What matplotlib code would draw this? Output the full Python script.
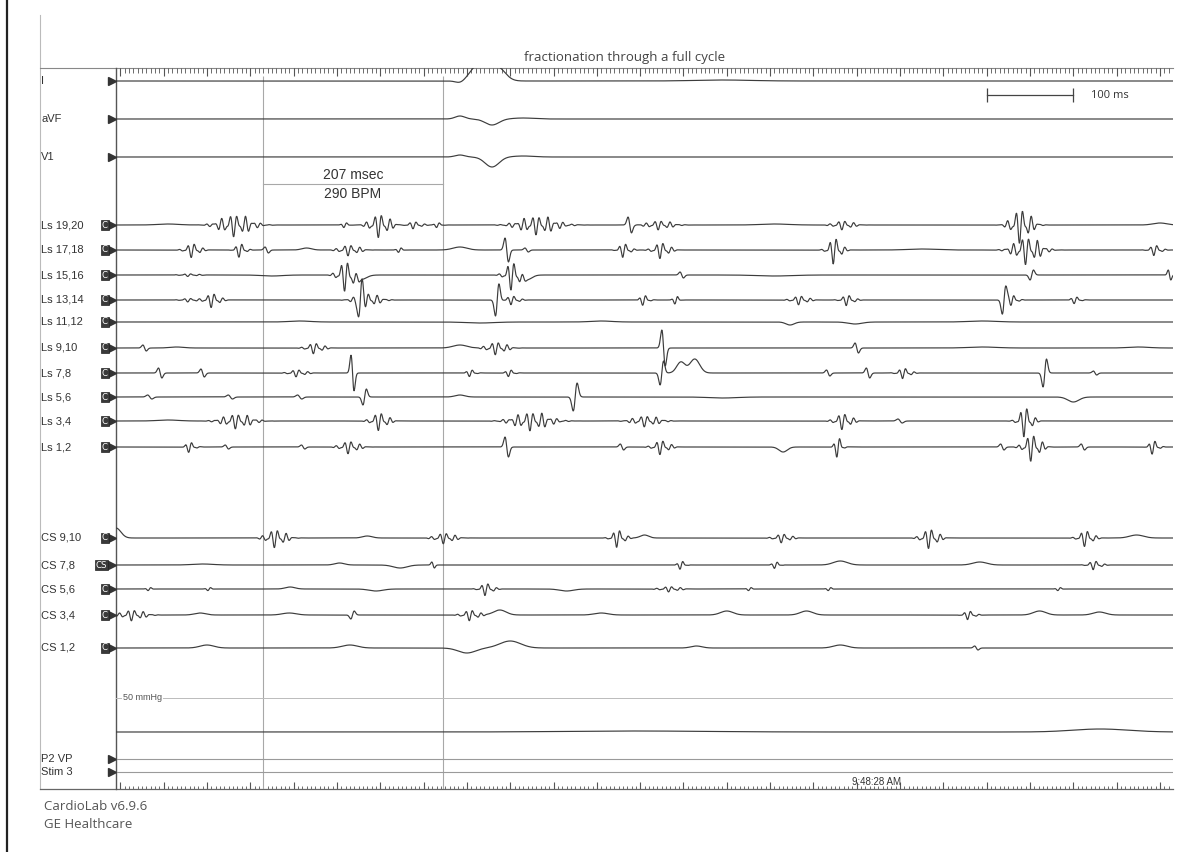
import numpy as np
import matplotlib
matplotlib.use("Agg")
import matplotlib.pyplot as plt
import matplotlib.transforms as mtransforms

# ---------------- data ----------------
title = "fractionation through a full cycle"
ecg_labels = ["I", "aVF", "V1"]
ls_labels = ["Ls 19,20", "Ls 17,18", "Ls 15,16", "Ls 13,14", "Ls 11,12",
             "Ls 9,10", "Ls 7,8", "Ls 5,6", "Ls 3,4", "Ls 1,2"]
cs_labels = ["CS 9,10", "CS 7,8", "CS 5,6", "CS 3,4", "CS 1,2"]
cs_badges = ["C", "CS", "C", "C", "C"]
cursor_ms = [170, 377]
interval_text = ["207 msec", "290 BPM"]
scalebar_ms = [1005, 1105]
clock_text = "9:48:28 AM"

# deflection events per channel: (time ms, amplitude px (+ = up), width ms, kind)
# kind: h = smooth hump, b = biphasic spike, f = fractionated burst
ev_I = [(397, -2, 12, "h"), (418, 16, 22, "h"), (440, 14, 22, "h"), (700, 1, 80, "h")]
ev_aVF = [(397, 3, 14, "h"), (434, -6, 20, "h"), (470, 1, 30, "h")]
ev_V1 = [(397, 2, 14, "h"), (434, -10, 20, "h"), (470, 1, 30, "h")]

ev_ls = [
    # Ls 19,20
    [(60, 1, 30, "h"), (138, 12, 48, "f"), (265, 3, 12, "f"), (305, 13, 30, "f"),
     (345, 4, 22, "f"), (372, 3, 12, "f"), (487, 10, 58, "f"), (593, 8, 8, "b"),
     (628, 5, 38, "f"), (760, 1, 40, "h"), (840, 5, 30, "f"), (1045, 19, 30, "f"),
     (1205, 2, 20, "h")],
    # Ls 17,18
    [(89, 8, 22, "f"), (144, 8, 16, "f"), (174, 3, 8, "b"), (220, 2, 14, "h"),
     (270, 6, 30, "f"), (328, 3, 10, "f"), (397, 3, 20, "h"), (451, 12, 8, "b"),
     (474, 2, 8, "b"), (587, 8, 18, "f"), (630, 9, 24, "f"), (830, 15, 20, "f"),
     (930, 1, 40, "h"), (1052, 15, 40, "f"), (1200, 6, 18, "f")],
    # Ls 15,16
    [(85, 1.5, 28, "f"), (180, -1, 30, "h"), (266, 17, 24, "f"), (282, -5, 16, "h"),
     (458, 16, 22, "f"), (474, -5, 14, "h"), (653, 3, 8, "b"), (760, -1, 50, "h"),
     (1057, -5, 8, "b"), (1216, 5, 6, "b")],
    # Ls 13,14
    [(85, 2, 25, "f"), (112, 8, 22, "f"), (290, 8, 36, "f"), (282, -16, 8, "b"),
     (440, -16, 8, "b"), (458, 5, 20, "f"), (610, 6, 14, "f"), (647, 5, 10, "f"),
     (790, 5, 25, "f"), (845, 6, 20, "f"), (1025, -14, 8, "b"), (1035, 6, 16, "f"),
     (1108, 4, 15, "f")],
    # Ls 11,12
    [(212, 1, 30, "h"), (420, -1, 40, "h"), (560, 1, 30, "h"), (778, -3, 12, "h"),
     (853, -2, 20, "h"), (1000, 1, 40, "h")],
    # Ls 9,10
    [(33, 3, 8, "b"), (70, 1, 20, "h"), (230, 6, 25, "f"), (397, 3, 20, "h"),
     (440, 7, 30, "f"), (632, 18, 8, "b"), (855, 5, 8, "b"), (1000, 1, 40, "h"),
     (1180, 1, 30, "h")],
    # Ls 7,8
    [(51, 5, 8, "b"), (100, 4, 8, "b"), (210, 4, 25, "f"), (273, 18, 7, "b"),
     (410, 4, 14, "f"), (455, 4, 14, "f"), (630, -12, 8, "b"), (652, 11, 12, "h"),
     (668, 14, 14, "h"), (822, 3, 8, "b"), (868, 5, 8, "b"), (910, 6, 20, "f"),
     (1072, -14, 8, "b"), (1130, 2, 8, "b")],
    # Ls 5,6
    [(39, 2, 10, "b"), (132, 2, 10, "b"), (212, 2, 10, "b"), (287, -8, 8, "b"),
     (397, 2, 14, "h"), (530, -14, 9, "b"), (700, -1, 40, "h"), (1105, -5, 16, "h")],
    # Ls 3,4
    [(60, 1, 30, "h"), (140, 8, 45, "f"), (305, 10, 25, "f"), (480, 10, 55, "f"),
     (612, 6, 40, "f"), (840, 9, 25, "f"), (905, 2, 10, "b"), (1050, 17, 20, "f")],
    # Ls 1,2
    [(86, 6, 15, "f"), (128, 2, 8, "b"), (216, 2, 8, "b"), (270, 7, 28, "f"),
     (451, 10, 8, "b"), (584, 3, 8, "b"), (630, 8, 24, "f"), (770, -5, 12, "h"),
     (834, 12, 12, "f"), (1023, 3, 8, "b"), (1058, 15, 25, "f"), (1116, 3, 8, "b"),
     (1198, 8, 15, "f")],
]

ev_cs = [
    # CS 9,10
    [(0, 10, 14, "h"), (185, 10, 30, "f"), (290, 2, 14, "h"), (380, 6, 30, "f"),
     (580, 10, 20, "f"), (610, 3, 12, "h"), (770, 5, 25, "f"), (940, 11, 25, "f"),
     (1120, 9, 22, "f"), (1178, 3, 20, "h")],
    # CS 7,8
    [(100, 1, 30, "h"), (258, 2, 14, "h"), (328, -3, 20, "h"), (366, 3, 6, "b"),
     (653, 5, 12, "f"), (762, 4, 12, "f"), (836, 4, 20, "h"), (997, 3, 20, "h"),
     (1130, 5, 20, "f")],
    # CS 5,6
    [(39, 2, 10, "f"), (108, 2, 10, "f"), (201, 2, 14, "h"), (300, -2, 20, "h"),
     (428, 7, 20, "f"), (520, -2, 20, "h"), (640, 3, 30, "f"), (732, 2, 10, "f"),
     (824, 2, 10, "f"), (1089, 2, 10, "f")],
    # CS 3,4
    [(20, 6, 35, "f"), (97, 2, 16, "h"), (200, 2, 20, "h"), (273, -4, 8, "b"),
     (410, 6, 25, "f"), (443, 5, 18, "h"), (560, 2, 20, "h"), (705, 4, 18, "h"),
     (797, 4, 18, "h"), (985, 5, 18, "f"), (1066, 4, 18, "h"), (1135, 3, 18, "h")],
    # CS 1,2
    [(105, 3, 20, "h"), (270, 3, 22, "h"), (405, -5, 25, "h"), (455, 7, 30, "h"),
     (670, 2, 16, "h"), (836, 3, 20, "h"), (993, 2, 8, "b")],
]

ev_pressure = [(1136, 3, 80, "h"), (600, 1, 200, "h")]

# ---------------- layout (pixel rows) ----------------
W, H = 1192, 852
X0, X1, Y0, Y1 = 116, 1173, 68, 789
ecg_rows = [81, 119, 157]
ls_rows = [225, 250, 275, 300, 322, 348, 373, 397, 421, 447]
cs_rows = [538, 565, 589, 615, 648]
pressure_row = 732
ref_row = 698
aux_labels = ["P2 VP", "Stim 3"]
aux_rows = [759, 772]

TRACE = "#3c3c3c"
GRID = "#a8a8a8"
TXT = "#333333"

t = np.arange(0, 1220.5, 0.5)


def synth(events):
    s = np.zeros_like(t)
    for t0, a, w, k in events:
        d = t - t0
        if k == "h":
            s += a * np.exp(-0.5 * (d / (w / 2.5)) ** 2)
        elif k == "b":
            sig = w / 4.0
            s += a * (-d / sig) * np.exp(0.5 - 0.5 * (d / sig) ** 2)
        else:
            env = np.exp(-0.5 * (d / (w / 3.2)) ** 2)
            s += a * env * (0.65 * np.sin(2 * np.pi * d / 9.0) +
                            0.35 * np.sin(2 * np.pi * d / 5.6 + 1.0))
    return s


fig = plt.figure(figsize=(W / 100, H / 100), dpi=100)
fig.patch.set_facecolor("white")

# background/frame axes in pixel units
bg = fig.add_axes([0, 0, 1, 1])
bg.set_xlim(0, W)
bg.set_ylim(H, 0)
bg.axis("off")
bg.plot([7, 7], [0, 852], color="#222222", lw=1.6)
bg.plot([40, 40], [15, Y1], color="#bbbbbb", lw=0.8)
bg.plot([40, X1], [Y0, Y0], color="#888888", lw=0.8)
bg.plot([40, X1], [Y1, Y1], color="#666666", lw=0.9)

ax = fig.add_axes([X0 / W, (H - Y1) / H, (X1 - X0) / W, (Y1 - Y0) / H])
ax.set_xlim(0, 1220)
ax.set_ylim(Y1, Y0)
ax.axis("off")

trans = mtransforms.blended_transform_factory(fig.transFigure, ax.transData)

# left axis line of trace area
ax.plot([0, 0], [Y0, Y1], color="#555555", lw=1.0, clip_on=False)

# rulers
minor = np.arange(0, 1221, 5)
major = np.arange(5, 1221, 50)
ax.vlines(minor, Y0, Y0 + 5, color="#555555", lw=0.6)
ax.vlines(major, Y0, Y0 + 8, color="#555555", lw=0.8)
ax.vlines(minor, Y1 - 3, Y1, color="#555555", lw=0.6)
ax.vlines(major, Y1 - 7, Y1, color="#555555", lw=0.8)

# cursors
ax.vlines(cursor_ms, Y0 + 8, Y1, color=GRID, lw=0.8)
ax.plot(cursor_ms, [184, 184], color=GRID, lw=0.8)
ax.text(np.mean(cursor_ms), 175, interval_text[0], ha="center", va="center",
        fontsize=10, family="Liberation Sans", color=TXT)
ax.text(np.mean(cursor_ms), 193.5, interval_text[1], ha="center", va="center",
        fontsize=10, family="Liberation Sans", color=TXT)

# reference / aux lines
ax.plot([0, 1220], [ref_row, ref_row], color="#bbbbbb", lw=0.7)
ax.text(8, ref_row, "50 mmHg", ha="left", va="center", fontsize=6.5,
        family="Liberation Sans", color="#555555",
        bbox=dict(facecolor="white", edgecolor="none", pad=0.5))
for r in aux_rows:
    ax.plot([0, 1220], [r, r], color="#9a9a9a", lw=0.8)

# traces
def draw(events, row):
    ax.plot(t, row - synth(events), color=TRACE, lw=0.85)

for ev, r in zip([ev_I, ev_aVF, ev_V1], ecg_rows):
    draw(ev, r)
for ev, r in zip(ev_ls, ls_rows):
    draw(ev, r)
for ev, r in zip(ev_cs, cs_rows):
    draw(ev, r)
draw(ev_pressure, pressure_row)

# labels, badges, markers
lab_font = dict(fontsize=8, family="Liberation Sans", color=TXT, va="center", ha="left")
badge_font = dict(fontsize=6.2, color="white", ha="center", va="center",
                  family="DejaVu Sans",
                  bbox=dict(facecolor="#3a3a3a", edgecolor="#222222", lw=0.5, pad=0.7))
for lab, r in zip(ecg_labels, ecg_rows):
    ax.text(41 / W, r, lab, transform=trans, **lab_font)
    ax.plot([-4.5], [r], marker=">", ms=6, color="#333333", clip_on=False)
for lab, r in zip(ls_labels, ls_rows):
    ax.text(41 / W, r, lab, transform=trans, **lab_font)
    ax.text(105 / W, r, "C", transform=trans, **badge_font)
    ax.plot([-4.5], [r], marker=">", ms=6, color="#333333", clip_on=False)
for lab, b, r in zip(cs_labels, cs_badges, cs_rows):
    ax.text(41 / W, r, lab, transform=trans, **lab_font)
    bx = 105 if b == "C" else 101.5
    ax.text(bx / W, r, b, transform=trans, **badge_font)
    ax.plot([-4.5], [r], marker=">", ms=6, color="#333333", clip_on=False)
for lab, r in zip(aux_labels, aux_rows):
    ax.text(41 / W, r, lab, transform=trans, **lab_font)
    ax.plot([-4.5], [r], marker=">", ms=6, color="#333333", clip_on=False)

# scale bar
ax.plot(scalebar_ms, [95, 95], color="#444444", lw=0.9)
ax.vlines(scalebar_ms, 88, 102, color="#444444", lw=0.9)
ax.text(scalebar_ms[1] + 20, 95, "100 ms", ha="left", va="center", fontsize=8,
        family="Open Sans", color=TXT)

# title, clock, footer
fig.text(625 / W, 1 - 57 / H, title, ha="center", va="center", fontsize=9.5,
         family="Open Sans", color="#444444")
ax.text(878, 782, clock_text, ha="center", va="center", fontsize=7,
        family="Liberation Sans", color="#333333")
fig.text(44 / W, 1 - 806 / H, "CardioLab v6.9.6", ha="left", va="center",
         fontsize=9.5, family="Open Sans", color="#555555")
fig.text(44 / W, 1 - 825 / H, "GE Healthcare", ha="left", va="center",
         fontsize=9.5, family="Open Sans", color="#555555")

fig.savefig("out.png", dpi=100, facecolor="white")
